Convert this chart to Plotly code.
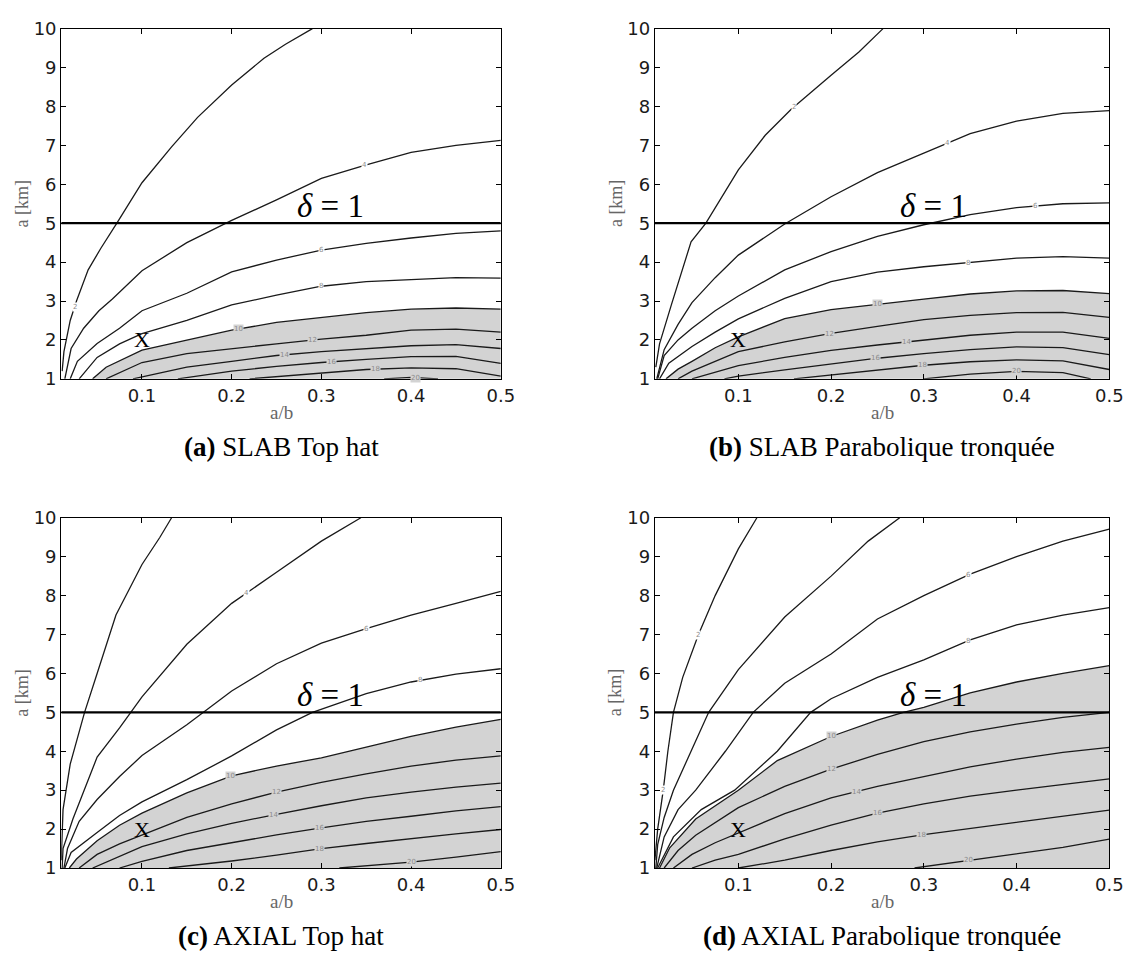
import numpy as np
import plotly.graph_objects as go

# ---------------- data ----------------
x_ticks = [0.1, 0.2, 0.3, 0.4, 0.5]
y_ticks = [1, 2, 3, 4, 5, 6, 7, 8, 9, 10]
levels = [2, 4, 6, 8, 10, 12, 14, 16, 18, 20]
shade_level = 10
delta_one = 5.0
marker_point = (0.1, 2.0)

panel_titles = ["SLAB Top hat", "SLAB Parabolique tronquée",
                "AXIAL Top hat", "AXIAL Parabolique tronquée"]
panel_letters = ["(a)", "(b)", "(c)", "(d)"]

# each contour: (a/b values, a [km] values)
slab_top_hat = {
    2: ([0.011, 0.013, 0.02, 0.027, 0.04, 0.054, 0.072, 0.1, 0.133, 0.162, 0.2, 0.236, 0.26, 0.29],
        [1.2, 1.7, 2.5, 3.0, 3.8, 4.35, 5.0, 6.04, 6.96, 7.72, 8.55, 9.24, 9.6, 10.0]),
    4: ([0.014, 0.021, 0.035, 0.052, 0.067, 0.1, 0.15, 0.2, 0.25, 0.3, 0.35, 0.4, 0.45, 0.5],
        [1.0, 1.78, 2.3, 2.75, 3.05, 3.78, 4.5, 5.07, 5.6, 6.15, 6.5, 6.82, 7.0, 7.13]),
    6: ([0.02, 0.028, 0.05, 0.075, 0.1, 0.15, 0.2, 0.25, 0.3, 0.35, 0.4, 0.45, 0.5],
        [1.0, 1.45, 1.91, 2.3, 2.75, 3.2, 3.75, 4.05, 4.31, 4.48, 4.62, 4.74, 4.8]),
    8: ([0.03, 0.05, 0.075, 0.1, 0.15, 0.2, 0.25, 0.3, 0.35, 0.4, 0.45, 0.5],
        [1.0, 1.55, 1.9, 2.16, 2.5, 2.9, 3.15, 3.38, 3.5, 3.55, 3.6, 3.59]),
    10: ([0.045, 0.06, 0.1, 0.15, 0.2, 0.25, 0.3, 0.35, 0.4, 0.45, 0.5],
         [1.0, 1.3, 1.74, 2.0, 2.25, 2.45, 2.58, 2.7, 2.79, 2.82, 2.79]),
    12: ([0.06, 0.1, 0.15, 0.2, 0.25, 0.3, 0.35, 0.4, 0.45, 0.5],
         [1.0, 1.42, 1.65, 1.78, 1.9, 2.02, 2.12, 2.25, 2.28, 2.2]),
    14: ([0.09, 0.15, 0.2, 0.25, 0.3, 0.35, 0.4, 0.45, 0.5],
         [1.0, 1.3, 1.45, 1.6, 1.7, 1.78, 1.85, 1.88, 1.78]),
    16: ([0.14, 0.2, 0.25, 0.3, 0.35, 0.4, 0.45, 0.5],
         [1.0, 1.2, 1.32, 1.42, 1.5, 1.57, 1.58, 1.4]),
    18: ([0.22, 0.3, 0.35, 0.4, 0.45, 0.5],
         [1.0, 1.15, 1.24, 1.28, 1.26, 1.07]),
    20: ([0.37, 0.4, 0.43],
         [1.0, 1.04, 1.0]),
}

slab_parabolic = {
    2: ([0.011, 0.015, 0.028, 0.04, 0.049, 0.065, 0.1, 0.129, 0.157, 0.2, 0.23, 0.256],
        [1.3, 1.9, 2.92, 3.8, 4.52, 5.0, 6.37, 7.26, 7.93, 8.8, 9.4, 10.0]),
    4: ([0.012, 0.02, 0.035, 0.05, 0.075, 0.1, 0.15, 0.2, 0.25, 0.3, 0.35, 0.4, 0.45, 0.5],
        [1.0, 1.75, 2.4, 2.96, 3.6, 4.18, 4.98, 5.68, 6.3, 6.8, 7.3, 7.62, 7.82, 7.89]),
    6: ([0.013, 0.02, 0.035, 0.05, 0.075, 0.1, 0.15, 0.2, 0.25, 0.3, 0.35, 0.4, 0.45, 0.5],
        [1.0, 1.6, 2.0, 2.3, 2.75, 3.13, 3.8, 4.27, 4.66, 4.96, 5.22, 5.4, 5.5, 5.52]),
    8: ([0.015, 0.025, 0.05, 0.075, 0.1, 0.15, 0.2, 0.25, 0.3, 0.35, 0.4, 0.45, 0.5],
        [1.0, 1.4, 1.83, 2.2, 2.54, 3.07, 3.5, 3.74, 3.88, 3.99, 4.1, 4.14, 4.1]),
    10: ([0.022, 0.035, 0.05, 0.075, 0.1, 0.15, 0.2, 0.25, 0.3, 0.35, 0.4, 0.45, 0.5],
         [1.0, 1.25, 1.45, 1.8, 2.08, 2.55, 2.78, 2.92, 3.05, 3.18, 3.26, 3.27, 3.19]),
    12: ([0.035, 0.05, 0.075, 0.1, 0.15, 0.2, 0.25, 0.3, 0.35, 0.4, 0.45, 0.5],
         [1.0, 1.2, 1.45, 1.7, 1.95, 2.17, 2.35, 2.52, 2.63, 2.7, 2.71, 2.58]),
    14: ([0.05, 0.075, 0.1, 0.15, 0.2, 0.25, 0.3, 0.35, 0.4, 0.45, 0.5],
         [1.0, 1.17, 1.34, 1.55, 1.73, 1.87, 2.0, 2.12, 2.2, 2.2, 2.04]),
    16: ([0.085, 0.1, 0.15, 0.2, 0.25, 0.3, 0.35, 0.4, 0.45, 0.5],
         [1.0, 1.07, 1.23, 1.38, 1.53, 1.65, 1.75, 1.82, 1.8, 1.62]),
    18: ([0.16, 0.2, 0.25, 0.3, 0.35, 0.4, 0.45, 0.5],
         [1.0, 1.1, 1.22, 1.35, 1.44, 1.49, 1.46, 1.24]),
    20: ([0.3, 0.35, 0.4, 0.45, 0.48],
         [1.0, 1.12, 1.19, 1.16, 1.0]),
}

axial_top_hat = {
    2: ([0.01, 0.012, 0.02, 0.036, 0.05, 0.071, 0.1, 0.12, 0.133],
        [1.2, 2.5, 3.67, 5.0, 6.0, 7.5, 8.8, 9.5, 10.0]),
    4: ([0.011, 0.012, 0.023, 0.05, 0.075, 0.1, 0.15, 0.2, 0.25, 0.3, 0.344],
        [1.0, 1.5, 2.26, 3.85, 4.6, 5.4, 6.75, 7.8, 8.6, 9.4, 10.0]),
    6: ([0.013, 0.017, 0.03, 0.05, 0.075, 0.1, 0.15, 0.2, 0.25, 0.3, 0.35, 0.4, 0.45, 0.5],
        [1.0, 1.5, 2.2, 2.76, 3.35, 3.89, 4.68, 5.55, 6.25, 6.78, 7.15, 7.5, 7.8, 8.11]),
    8: ([0.014, 0.021, 0.05, 0.075, 0.1, 0.15, 0.2, 0.25, 0.29, 0.35, 0.4, 0.45, 0.5],
        [1.0, 1.4, 1.91, 2.35, 2.7, 3.27, 3.88, 4.55, 5.0, 5.48, 5.78, 5.98, 6.12]),
    10: ([0.019, 0.027, 0.05, 0.075, 0.1, 0.15, 0.2, 0.25, 0.3, 0.35, 0.4, 0.45, 0.5],
         [1.0, 1.23, 1.7, 2.1, 2.41, 2.93, 3.37, 3.62, 3.83, 4.1, 4.38, 4.62, 4.82]),
    12: ([0.03, 0.05, 0.075, 0.1, 0.15, 0.2, 0.25, 0.3, 0.35, 0.4, 0.45, 0.5],
         [1.0, 1.35, 1.62, 1.85, 2.3, 2.65, 2.95, 3.2, 3.42, 3.62, 3.77, 3.88]),
    14: ([0.045, 0.075, 0.1, 0.15, 0.2, 0.25, 0.3, 0.35, 0.4, 0.45, 0.5],
         [1.0, 1.3, 1.55, 1.88, 2.15, 2.38, 2.6, 2.8, 2.95, 3.08, 3.18]),
    16: ([0.075, 0.1, 0.15, 0.2, 0.25, 0.3, 0.35, 0.4, 0.45, 0.5],
         [1.0, 1.17, 1.45, 1.65, 1.85, 2.03, 2.2, 2.33, 2.47, 2.58]),
    18: ([0.13, 0.2, 0.25, 0.3, 0.35, 0.4, 0.45, 0.5],
         [1.0, 1.18, 1.33, 1.5, 1.63, 1.76, 1.88, 1.99]),
    20: ([0.32, 0.35, 0.4, 0.45, 0.5],
         [1.0, 1.06, 1.15, 1.28, 1.42]),
}

axial_parabolic = {
    2: ([0.01, 0.013, 0.019, 0.024, 0.03, 0.04, 0.057, 0.075, 0.1, 0.12],
        [1.2, 2.0, 3.0, 4.0, 5.0, 5.9, 7.0, 8.0, 9.2, 10.0]),
    4: ([0.011, 0.013, 0.02, 0.03, 0.049, 0.068, 0.1, 0.15, 0.2, 0.24, 0.274],
        [1.0, 1.6, 2.3, 3.0, 4.0, 5.0, 6.1, 7.45, 8.5, 9.4, 10.0]),
    6: ([0.012, 0.02, 0.035, 0.054, 0.086, 0.116, 0.15, 0.2, 0.25, 0.3, 0.35, 0.4, 0.45, 0.5],
        [1.0, 1.8, 2.5, 3.0, 4.0, 5.0, 5.75, 6.5, 7.4, 8.0, 8.55, 9.0, 9.4, 9.71]),
    8: ([0.013, 0.03, 0.06, 0.096, 0.142, 0.178, 0.2, 0.25, 0.3, 0.35, 0.4, 0.45, 0.5],
        [1.0, 1.8, 2.5, 3.0, 4.0, 5.0, 5.35, 5.9, 6.35, 6.86, 7.25, 7.5, 7.69]),
    10: ([0.015, 0.026, 0.054, 0.1, 0.142, 0.2, 0.25, 0.278, 0.3, 0.35, 0.4, 0.45, 0.5],
         [1.0, 1.52, 2.26, 3.0, 3.76, 4.38, 4.8, 5.0, 5.13, 5.5, 5.78, 6.0, 6.2]),
    12: ([0.02, 0.035, 0.054, 0.1, 0.15, 0.2, 0.25, 0.3, 0.35, 0.4, 0.45, 0.5],
         [1.0, 1.45, 1.84, 2.55, 3.1, 3.54, 3.92, 4.25, 4.5, 4.7, 4.87, 5.0]),
    14: ([0.03, 0.05, 0.075, 0.1, 0.15, 0.2, 0.25, 0.3, 0.35, 0.4, 0.45, 0.5],
         [1.0, 1.35, 1.65, 1.9, 2.4, 2.8, 3.1, 3.35, 3.6, 3.8, 3.97, 4.1]),
    16: ([0.05, 0.075, 0.1, 0.15, 0.2, 0.25, 0.3, 0.35, 0.4, 0.45, 0.5],
         [1.0, 1.2, 1.35, 1.75, 2.1, 2.41, 2.65, 2.85, 3.0, 3.15, 3.29]),
    18: ([0.1, 0.15, 0.2, 0.25, 0.3, 0.35, 0.4, 0.45, 0.5],
         [1.0, 1.2, 1.45, 1.67, 1.86, 2.02, 2.17, 2.33, 2.49]),
    20: ([0.29, 0.35, 0.4, 0.45, 0.5],
         [1.0, 1.2, 1.35, 1.53, 1.74]),
}

# x positions (a/b) of the inline contour labels
labels_a = {2: [0.025], 4: [0.348], 6: [0.3], 8: [0.3], 10: [0.208], 12: [0.29],
            14: [0.259], 16: [0.311], 18: [0.36], 20: [0.405]}
labels_b = {2: [0.16], 4: [0.326], 6: [0.42], 8: [0.348], 10: [0.25], 12: [0.198],
            14: [0.281], 16: [0.248], 18: [0.299], 20: [0.4]}
labels_c = {4: [0.217], 6: [0.35], 8: [0.41], 10: [0.199], 12: [0.25], 14: [0.247],
            16: [0.298], 18: [0.298], 20: [0.4]}
labels_d = {2: [0.019, 0.057], 6: [0.348], 8: [0.348], 10: [0.2], 12: [0.2], 14: [0.227],
            16: [0.25], 18: [0.297], 20: [0.348]}

panels = [slab_top_hat, slab_parabolic, axial_top_hat, axial_parabolic]
panel_labels = [labels_a, labels_b, labels_c, labels_d]

# ---------------- layout geometry (pixels in a 1145 x 969 page) ----------------
W, H = 1145, 969
col_px = [(62, 507), (663, 1123)]
row_px = [(18, 376), (518, 876)]
SHADE = "#d3d3d3"
LINE = "#1a1a1a"

fig = go.Figure()
annotations = []

for i, (curves, labs) in enumerate(zip(panels, panel_labels)):
    r, c = divmod(i, 2)
    ax = "" if i == 0 else str(i + 1)
    xref, yref = "x" + ax, "y" + ax

    # shaded area under the shade_level contour
    sx, sy = curves[shade_level]
    fig.add_trace(go.Scatter(x=sx, y=sy, mode="lines", fill="tozeroy",
                             fillcolor=SHADE, line=dict(color=LINE, width=1.3),
                             xaxis=xref, yaxis=yref, showlegend=False, hoverinfo="skip"))
    for lev in levels:
        if lev == shade_level:
            continue
        xs, ys = curves[lev]
        fig.add_trace(go.Scatter(x=xs, y=ys, mode="lines",
                                 line=dict(color=LINE, width=1.3),
                                 xaxis=xref, yaxis=yref, showlegend=False, hoverinfo="skip"))
    # delta = 1 line
    fig.add_trace(go.Scatter(x=[0.01, 0.5], y=[delta_one, delta_one], mode="lines",
                             line=dict(color="black", width=2.2),
                             xaxis=xref, yaxis=yref, showlegend=False, hoverinfo="skip"))

    # inline contour labels
    for lev, xl_list in labs.items():
        xs, ys = curves[lev]
        for xl in xl_list:
            yl = float(np.interp(xl, xs, ys))
            annotations.append(dict(
                x=xl, y=yl, xref=xref, yref=yref, text=str(lev), showarrow=False,
                xanchor="center", yanchor="middle",
                font=dict(family="DejaVu Sans", size=7, color="#8a8a8a"),
                bgcolor=SHADE if lev >= shade_level else "white", borderpad=0))

    annotations.append(dict(x=0.31, y=delta_one, xref=xref, yref=yref,
                            text="<i>δ</i> = 1", showarrow=False, xanchor="center",
                            yanchor="bottom", yshift=-3,
                            font=dict(family="Liberation Serif", size=33, color="black")))
    annotations.append(dict(x=marker_point[0], y=marker_point[1], xref=xref, yref=yref,
                            text="X", showarrow=False, xanchor="center", yanchor="middle",
                            font=dict(family="Liberation Serif", size=22, color="black")))

    x0, x1 = col_px[c]
    ytop, ybot = row_px[r]
    xdom = [x0 / W, x1 / W]
    ydom = [1 - ybot / H, 1 - ytop / H]
    common = dict(showline=True, linecolor="black", linewidth=1.2, mirror="allticks",
                  ticks="inside", ticklen=5, tickcolor="black", showgrid=False,
                  zeroline=False,
                  tickfont=dict(family="DejaVu Sans", size=18, color="#1a1a1a"))
    fig.layout["xaxis" + ax] = dict(domain=xdom, range=[0.01, 0.5], tickvals=x_ticks,
                                    ticktext=[f"{v:.1f}" for v in x_ticks],
                                    anchor=yref, **common)
    fig.layout["yaxis" + ax] = dict(domain=ydom, range=[1, 10], tickvals=y_ticks,
                                    anchor=xref, **common)

    # axis titles
    annotations.append(dict(x=(xdom[0] + xdom[1]) / 2, y=1 - (ybot + 34) / H,
                            xref="paper", yref="paper", text="a/b", showarrow=False,
                            xanchor="center", yanchor="middle",
                            font=dict(family="Liberation Serif", size=19, color="#666666")))
    annotations.append(dict(x=(x0 - 40) / W, y=(ydom[0] + ydom[1]) / 2,
                            xref="paper", yref="paper", text="a [km]", showarrow=False,
                            textangle=-90, xanchor="center", yanchor="middle",
                            font=dict(family="Liberation Serif", size=18, color="#666666")))
    # caption
    annotations.append(dict(x=(xdom[0] + xdom[1]) / 2, y=1 - (ybot + 70) / H,
                            xref="paper", yref="paper",
                            text=f"<b>{panel_letters[i]}</b> {panel_titles[i]}",
                            showarrow=False, xanchor="center", yanchor="middle",
                            font=dict(family="Liberation Serif", size=27, color="black")))

fig.update_layout(width=W, height=H, margin=dict(l=0, r=0, t=0, b=0),
                  paper_bgcolor="white", plot_bgcolor="white",
                  annotations=annotations, showlegend=False)

fig.write_html("out.html", config={"displayModeBar": False},
               post_script="document.body.style.margin='0';")
